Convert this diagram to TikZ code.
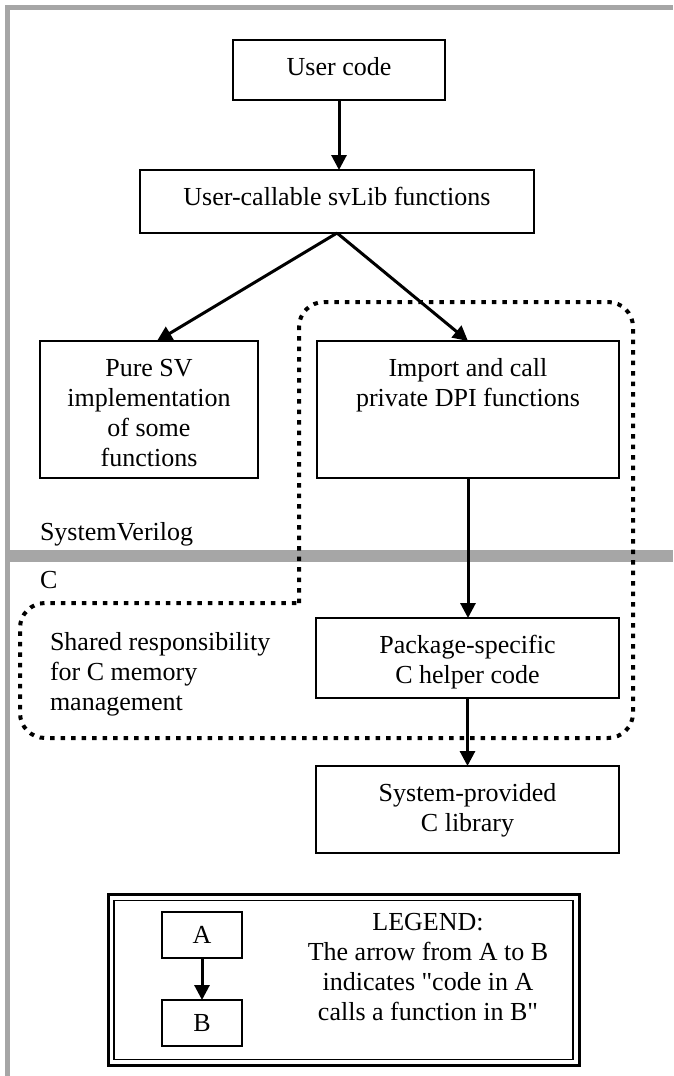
\documentclass[tikz,border=0pt]{standalone}
\usepackage{fontspec}
\setmainfont{Liberation Serif}[Ligatures=TeXOff]
\usetikzlibrary{arrows.meta}
\definecolor{framegray}{RGB}{166,166,166}
\newcommand{\boxtext}[3]{\parbox[c][#2][t]{#1}{\centering\rule{0pt}{35.5pt}#3}}
\tikzset{
  box/.style={draw, line width=1.8pt, inner sep=0pt, outer sep=0pt, fill=white},
  txt/.style={inner sep=0pt, outer sep=0pt},
  callarrow/.style={line width=3pt, -{Triangle[length=15pt,width=15pt]}},
  region/.style={line width=4pt, dash pattern=on 4.5pt off 6pt, rounded corners=25pt},
  divider/.style={framegray},
}
\begin{document}
\begin{tikzpicture}[x=1pt,y=-1pt,font=\fontsize{26}{30}\selectfont]
\useasboundingbox (0,0) rectangle (673,1076);
% frame and divider
\draw[divider, line width=5pt] (7.5,1076) -- (7.5,7.5) -- (673,7.5);
\draw[divider, line width=12pt] (5,555.5) -- (673,555.5);
% dotted region
\draw[region] (299,603) -- (299,302) -- (633,302) -- (633,738) -- (20,738) -- (20,603) -- (299,603);
% boxes
\node[box] (usercode) at (339,70) {\boxtext{212pt}{60pt}{User code}};
\node[box] (callable) at (337,201.5) {\boxtext{394pt}{63pt}{User-callable svLib functions}};
\node[box] (puresv) at (149,409.5) {\boxtext{218pt}{137pt}{Pure SV\\implementation\\of some\\functions}};
\node[box] (import) at (468,409.5) {\boxtext{302pt}{137pt}{Import and call\\private DPI functions}};
\node[box] (package) at (467.5,658) {\boxtext{303pt}{80pt}{Package-specific\\C helper code}};
\node[box] (system) at (467.5,809.5) {\boxtext{303pt}{87pt}{System-provided\\C library}};
% labels
\node[txt, anchor=base west] (svlabel) at (40,540) {SystemVerilog};
\node[txt, anchor=base west] (clabel) at (40,588) {C};
\node[txt, anchor=north west] (shared) at (50,614.5) {\parbox[t]{260pt}{\raggedright\rule{0pt}{35.5pt}Shared responsibility\\for C memory\\management}};
% arrows
\draw[callarrow] (usercode.south) -- (usercode.south |- callable.north);
\draw[callarrow] (callable.south) -- ([xshift=8pt]puresv.north);
\draw[callarrow] (callable.south) -- (import.north);
\draw[callarrow] (import.south) -- (import.south |- package.north);
\draw[callarrow] (package.south) -- (system.north);
% legend
\node[draw, line width=3pt, inner sep=0pt, outer sep=0pt, minimum width=471pt, minimum height=171pt] (legend) at (343.5,980) {};
\draw[line width=1.3pt] ([shift={(6,6)}]legend.north west) rectangle ([shift={(-6,-6)}]legend.south east);
\node[box, minimum width=80pt, minimum height=46pt] (la) at (202,935) {A};
\node[box, minimum width=80pt, minimum height=46pt] (lb) at (202,1023) {B};
\draw[callarrow] (la.south) -- (lb.north);
\node[txt, anchor=north] (legendtext) at (428,895) {\parbox[t]{320pt}{\centering\rule{0pt}{35.5pt}LEGEND:\\The arrow from A to B\\indicates "code in A\\calls a function in B"}};
\end{tikzpicture}
\end{document}
